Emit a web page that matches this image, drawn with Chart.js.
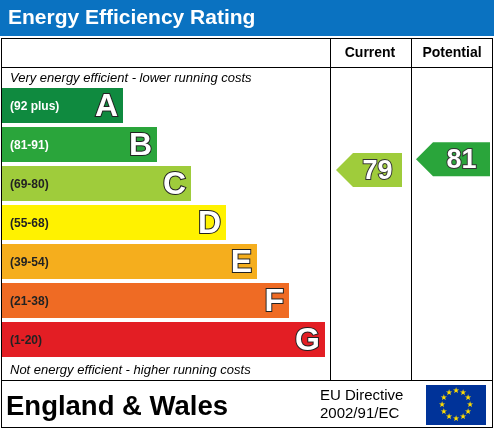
<!DOCTYPE html>
<html><head><meta charset="utf-8">
<script src="https://cdn.jsdelivr.net/npm/chart.js@4/dist/chart.umd.min.js"></script>
<style>html,body{margin:0;padding:0;background:#fff}#c{display:block}</style>
</head><body>
<div style="width:494px;height:429px"><canvas id="c"></canvas></div>
<script>
const bands = ['A', 'B', 'C', 'D', 'E', 'F', 'G'];
const ranges = ['(92 plus)', '(81-91)', '(69-80)', '(55-68)', '(39-54)', '(21-38)', '(1-20)'];
const barEnds = [121, 155, 189, 224, 255, 287, 323];
const colors = ['#0f8a3f', '#2aa53b', '#9fcc3b', '#fff200', '#f5ae1d', '#ef6b24', '#e31e24'];
const currentRating = 79;
const potentialRating = 81;

function arrow(ctx, tipX, y, w, h, fill, txt) {
    ctx.beginPath();
    ctx.moveTo(tipX, y);
    ctx.lineTo(tipX + h / 2, y - h / 2);
    ctx.lineTo(tipX + w, y - h / 2);
    ctx.lineTo(tipX + w, y + h / 2);
    ctx.lineTo(tipX + h / 2, y + h / 2);
    ctx.closePath();
    ctx.fillStyle = fill;
    ctx.fill();
    ctx.font = 'bold 27px "Liberation Sans"';
    ctx.textAlign = 'center';
    ctx.textBaseline = 'middle';
    ctx.lineWidth = 2;
    ctx.strokeStyle = '#333';
    ctx.strokeText(txt, tipX + h / 2 + (w - h / 2) / 2, y + 1);
    ctx.fillStyle = '#fff';
    ctx.fillText(txt, tipX + h / 2 + (w - h / 2) / 2, y + 1);
}

const epcPlugin = {
    id: 'epc',
    beforeDraw(chart) {
        const ctx = chart.ctx;
        ctx.save();
        ctx.fillStyle = '#0a72c1';
        ctx.fillRect(0, 0, 494, 36);
        ctx.fillStyle = '#fff';
        ctx.font = 'bold 21px "Liberation Sans"';
        ctx.textBaseline = 'middle';
        ctx.fillText('Energy Efficiency Rating', 8, 18);
        ctx.strokeStyle = '#000';
        ctx.lineWidth = 1;
        ctx.strokeRect(1.5, 38.5, 491, 389);
        ctx.beginPath();
        ctx.moveTo(1, 67.5); ctx.lineTo(493, 67.5);
        ctx.moveTo(1, 380.5); ctx.lineTo(493, 380.5);
        ctx.moveTo(330.5, 38); ctx.lineTo(330.5, 380);
        ctx.moveTo(411.5, 38); ctx.lineTo(411.5, 380);
        ctx.stroke();
        ctx.fillStyle = '#000';
        ctx.font = 'bold 14px "Liberation Sans"';
        ctx.textAlign = 'center';
        ctx.fillText('Current', 370, 53);
        ctx.fillText('Potential', 452, 53);
        ctx.textAlign = 'left';
        ctx.font = 'italic 13px "Liberation Sans"';
        ctx.fillText('Very energy efficient - lower running costs', 10, 78);
        ctx.fillText('Not energy efficient - higher running costs', 10, 370);
        ctx.font = 'bold 27.5px "Liberation Sans"';
        ctx.fillText('England & Wales', 6, 407);
        ctx.font = '15px "Liberation Sans"';
        ctx.fillText('EU Directive', 320, 396);
        ctx.fillText('2002/91/EC', 320, 414);
        ctx.fillStyle = '#003399';
        ctx.fillRect(426, 385, 60, 40);
        ctx.fillStyle = '#ffdd00';
        ctx.font = '8px "DejaVu Sans"';
        ctx.textAlign = 'center';
        for (let i = 0; i < 12; i++) {
            const a = i * Math.PI / 6;
            ctx.fillText('\u2605', 456 + 14 * Math.cos(a), 405 + 14 * Math.sin(a));
        }
        ctx.restore();
    },
    afterDatasetsDraw(chart) {
        const ctx = chart.ctx;
        const ys = chart.scales.y;
        const xs = chart.scales.x;
        const yr = chart.scales.yr;
        ctx.save();
        ctx.textBaseline = 'middle';
        bands.forEach((b, i) => {
            const y = ys.getPixelForValue(i);
            ctx.font = 'bold 12px "Liberation Sans"';
            ctx.textAlign = 'left';
            ctx.fillStyle = i < 2 ? '#fff' : '#222';
            ctx.fillText(ranges[i], 10, y + 1);
            ctx.font = 'bold 32px "Liberation Sans"';
            ctx.textAlign = 'right';
            ctx.lineWidth = 2;
            ctx.strokeStyle = '#222';
            const x = xs.getPixelForValue(barEnds[i]) - 5;
            ctx.strokeText(b, x, y + 2);
            ctx.fillStyle = '#fff';
            ctx.fillText(b, x, y + 2);
        });
        arrow(ctx, 336, yr.getPixelForValue(currentRating), 66, 34, colors[2], String(currentRating));
        arrow(ctx, 416, yr.getPixelForValue(potentialRating), 74, 34, colors[1], String(potentialRating));
        ctx.restore();
    }
};

new Chart(document.getElementById('c'), {
    type: 'bar',
    data: {
        labels: bands,
        datasets: [{
            data: barEnds,
            backgroundColor: colors,
            barPercentage: 0.9,
            categoryPercentage: 1
        }]
    },
    options: {
        indexAxis: 'y',
        responsive: true,
        maintainAspectRatio: false,
        animation: false,
        layout: {padding: {left: 2, right: 0, top: 86, bottom: 70}},
        plugins: {legend: {display: false}, tooltip: {enabled: false}},
        scales: {
            x: {min: 0, max: 492, display: false},
            y: {display: false},
            yr: {type: 'linear', axis: 'y', min: 46.8, max: 91.95, display: false}
        }
    },
    plugins: [epcPlugin]
});
</script>
</body></html>
